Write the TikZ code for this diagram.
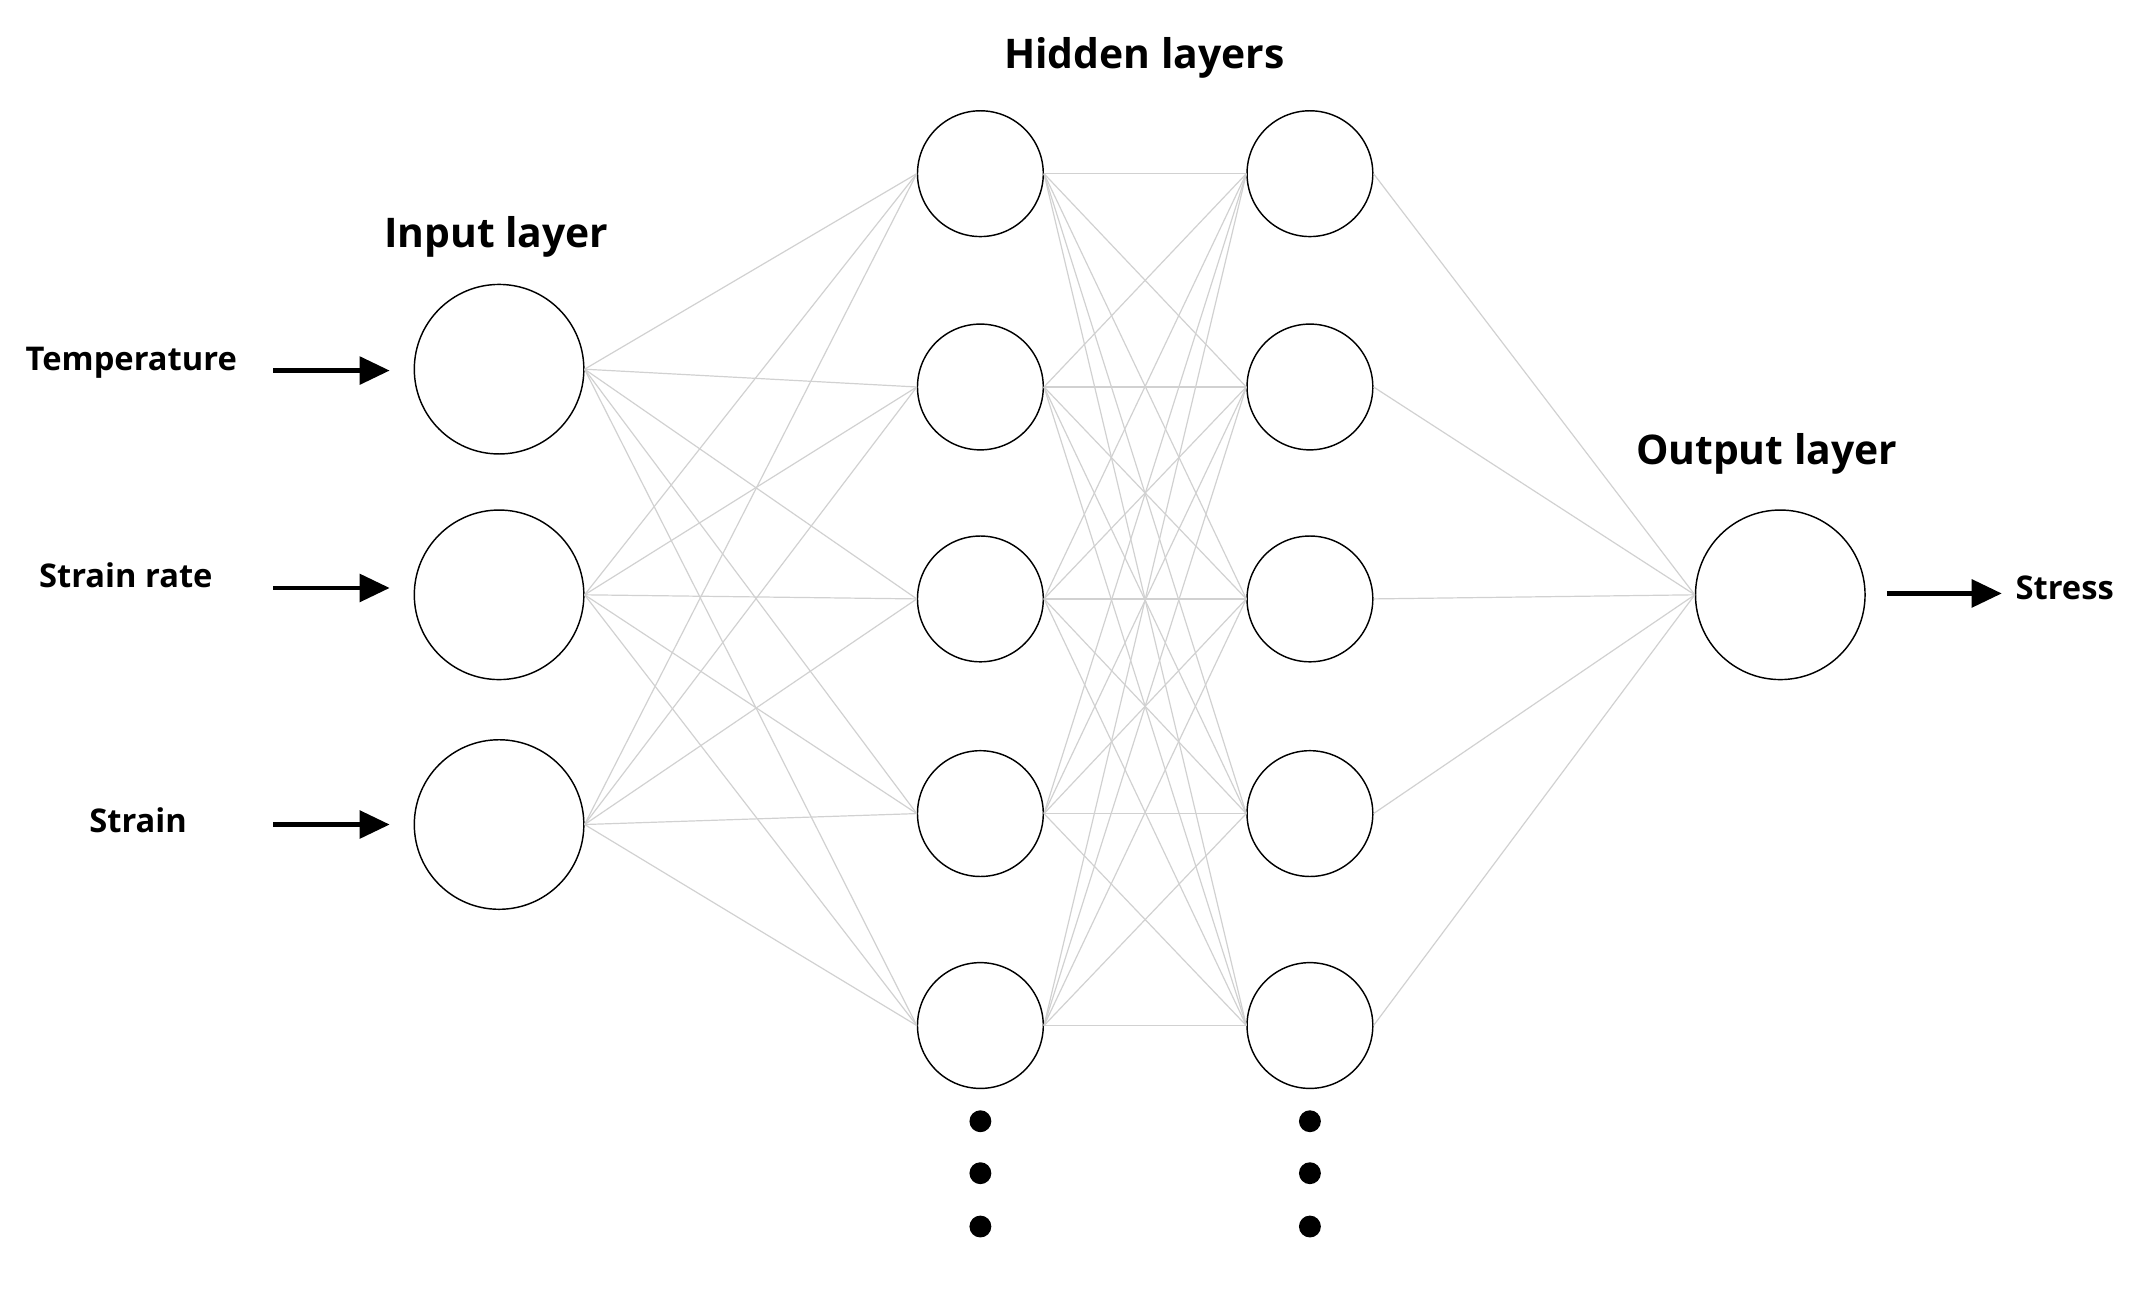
\documentclass[tikz,border=0pt]{standalone}
\usepackage{fontspec}
\setmainfont{Open Sans}
\usetikzlibrary{arrows.meta}
\begin{document}
\begin{tikzpicture}[x=0.1mm,y=-0.1mm,
  big/.style={circle,draw,line width=0.3pt,minimum size=12.4mm,inner sep=0},
  hid/.style={circle,draw,line width=0.3pt,minimum size=9.2mm,inner sep=0},
  con/.style={draw=black!18,line width=0.25pt},
  ttl/.style={font=\bfseries\fontsize{8.5}{10}\selectfont},
  lab/.style={font=\bfseries\fontsize{6.8}{8}\selectfont},
  arr/.style={-{Triangle[length=2.2mm,width=2mm]},line width=1pt},
  dot/.style={circle,fill,inner sep=0,minimum size=1.6mm}]
\useasboundingbox (0,0) rectangle (1568,945);
\node[big] (i1) at (365,270) {};
\node[big] (i2) at (365,435) {};
\node[big] (i3) at (365,603) {};
\foreach \y [count=\k] in {127,283,438,595,750}{
  \node[hid] (a\k) at (717,\y) {};
  \node[hid] (b\k) at (958,\y) {};
}
\node[big] (o) at (1302,435) {};
\foreach \i in {1,2,3}\foreach \k in {1,...,5}\draw[con] (i\i.east) -- (a\k.west);
\foreach \i in {1,...,5}\foreach \k in {1,...,5}\draw[con] (a\i.east) -- (b\k.west);
\foreach \k in {1,...,5}\draw[con] (b\k.east) -- (o.west);
\foreach \y [count=\k] in {820,858,897}{
  \node[dot] (da\k) at (717,\y) {};
  \node[dot] (db\k) at (958,\y) {};
}
\node[ttl] (th) at (837,42) {Hidden layers};
\node[ttl] (ti) at (363,173) {Input layer};
\node[ttl] (to) at (1292,332) {Output layer};
\node[lab] (l1) at (96,265) {Temperature};
\node[lab] (l2) at (92,421) {Strain rate};
\node[lab] (l3) at (101,600) {Strain};
\node[lab] (l4) at (1510,430) {Stress};
\coordinate (s1) at (200,271); \coordinate (e1) at (285,271);
\coordinate (s2) at (200,430); \coordinate (e2) at (285,430);
\coordinate (s3) at (200,603); \coordinate (e3) at (285,603);
\coordinate (s4) at (1380,434); \coordinate (e4) at (1464,434);
\foreach \k in {1,...,4}\draw[arr] (s\k) -- (e\k);
\end{tikzpicture}
\end{document}
